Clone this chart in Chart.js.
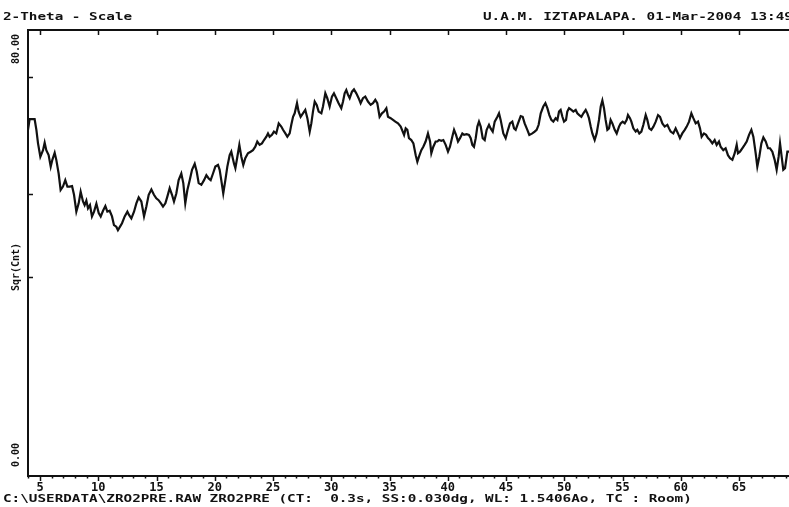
<!DOCTYPE html>
<html>
<head>
<meta charset="utf-8">
<script src="https://cdn.jsdelivr.net/npm/chart.js@4.4.1/dist/chart.umd.min.js"></script>
<style>
  html, body { margin: 0; padding: 0; background: #fff; overflow: hidden; }
  #wrap { position: relative; width: 789px; height: 507px; overflow: hidden; }
  canvas { position: absolute; left: 0; top: 0; }
  .txt { position: absolute; font-family: "DejaVu Sans Mono", monospace; font-weight: bold; font-size: 11px; color: #111; white-space: pre; transform-origin: 0 50%; transform: scaleX(1.3); line-height: 12px; }
  .vtxt { position: absolute; font-family: "DejaVu Sans Mono", monospace; font-weight: bold; font-size: 10px; color: #111; white-space: pre; line-height: 10px; transform: translate(-50%, -50%) rotate(-90deg); }
</style>
</head>
<body>
<div id="wrap">
  <canvas id="c" width="789" height="507"></canvas>
  <div class="txt" style="left:3px; top:11px;">2-Theta - Scale</div>
  <div class="txt" style="left:483px; top:11px;">U.A.M. IZTAPALAPA. 01-Mar-2004 13:49</div>
  <div class="txt" style="left:3px; top:493px;">C:\USERDATA\ZRO2PRE.RAW ZRO2PRE (CT:  0.3s, SS:0.030dg, WL: 1.5406Ao, TC : Room)</div>
  <div class="vtxt" style="left:16px; top:49px;">80.00</div>
  <div class="vtxt" style="left:16px; top:267px;">Sqr(Cnt)</div>
  <div class="vtxt" style="left:16px; top:455px;">0.00</div>
</div>
<script>
// 2-Theta positions (degrees)
const theta = [
  3.97,4.11,4.54,4.69,4.83,5.03,5.26,5.40,5.54,5.74,5.92,6.06,6.26,6.40,6.60,6.77,6.97,7.17,7.35,7.55,
  7.75,7.92,8.12,8.32,8.49,8.69,8.83,8.98,9.12,9.29,9.46,9.64,9.84,10.04,10.21,10.41,10.61,10.78,10.98,11.18,
  11.35,11.55,11.69,11.87,12.04,12.27,12.50,12.64,12.84,13.07,13.27,13.47,13.70,13.93,14.13,14.33,14.56,14.78,14.98,15.18,
  15.41,15.56,15.76,15.93,16.13,16.33,16.50,16.70,16.90,17.13,17.30,17.47,17.65,17.85,18.05,18.28,18.45,18.62,18.85,19.08,
  19.28,19.48,19.65,19.85,20.05,20.28,20.42,20.56,20.73,20.91,21.08,21.28,21.42,21.65,21.77,21.94,22.11,22.28,22.45,22.62,
  22.85,23.08,23.28,23.48,23.65,23.85,24.05,24.23,24.43,24.57,24.71,24.91,25.08,25.28,25.49,25.71,25.86,26.06,26.23,26.43,
  26.57,26.72,26.86,27.06,27.20,27.37,27.57,27.77,27.95,28.15,28.29,28.43,28.58,28.75,28.92,29.15,29.29,29.49,29.66,29.86,
  30.06,30.23,30.43,30.63,30.86,31.01,31.15,31.29,31.44,31.58,31.78,31.95,32.15,32.35,32.52,32.72,32.92,33.15,33.38,33.58,
  33.78,33.95,34.15,34.35,34.53,34.73,34.87,35.10,35.30,35.50,35.73,35.96,
  36.25,36.39,36.53,36.67,36.87,37.05,37.25,37.39,37.53,37.73,37.90,38.10,38.30,38.48,38.59,38.76,38.96,39.11,39.25,39.45,
  39.62,39.82,40.02,40.19,40.39,40.54,40.71,40.88,41.05,41.25,41.40,41.62,41.82,41.97,42.11,42.25,42.40,42.54,42.68,42.83,
  43.00,43.17,43.34,43.54,43.68,43.86,44.03,44.26,44.40,44.54,44.77,44.97,45.17,45.34,45.54,45.69,45.83,46.03,46.26,46.43,
  46.60,46.83,47.00,47.26,47.46,47.63,47.80,47.98,48.20,48.38,48.55,48.72,48.89,49.06,49.26,49.41,49.55,49.69,49.84,49.98,
  50.15,50.26,50.41,50.61,50.78,50.98,51.12,51.29,51.47,51.64,51.84,51.98,52.12,52.27,52.41,52.61,52.78,52.98,53.13,53.27,
  53.41,53.55,53.70,53.84,53.98,54.13,54.33,54.50,54.70,54.84,55.01,55.19,55.36,55.47,55.64,55.76,55.93,56.13,56.27,56.44,
  56.62,56.79,56.99,57.13,57.30,57.47,57.65,57.85,58.05,58.22,58.42,58.62,58.85,58.99,59.13,59.36,59.56,59.76,59.93,60.13,
  60.34,60.51,60.71,60.91,61.08,61.28,61.48,61.65,61.79,61.99,62.17,62.34,62.51,62.71,62.91,63.08,63.28,63.42,63.65,63.85,
  64.05,64.23,64.43,64.63,64.80,64.91,65.08,65.28,65.48,65.66,65.86,66.06,66.23,66.43,66.57,66.74,66.92,67.09,67.29,67.49,
  67.66,67.86,68.06,68.23,68.40,68.52,68.66,68.80,68.95,69.15,69.29
];
// Intensity (counts), plotted on a square-root axis
const counts = [
  48.2,51.2,51.2,48.2,44.5,41.0,42.7,44.7,42.7,41.4,38.5,40.2,42.0,40.2,36.8,32.9,33.7,35.2,33.7,33.7,
  33.8,31.8,28.1,29.9,32.5,30.3,29.5,30.5,28.8,29.5,27.1,28.1,29.8,27.8,27.1,28.3,29.3,28.1,28.3,27.1,
  25.3,25.0,24.3,25.0,25.7,27.1,28.1,27.4,26.7,28.1,29.9,31.2,30.3,27.1,29.2,31.8,33.0,31.8,31.0,30.6,
  29.8,29.2,29.9,31.4,33.3,31.8,30.3,32.1,35.2,36.8,34.5,29.9,32.9,35.2,37.7,39.2,37.3,34.5,34.1,35.2,
  36.4,35.6,35.2,36.8,38.5,38.9,37.7,35.2,32.1,35.2,38.5,41.4,42.3,39.3,38.1,41.0,44.1,41.0,38.9,40.6,
  41.9,42.3,42.7,43.6,45.0,44.1,44.5,45.4,46.3,47.2,46.3,46.8,47.7,47.2,50.0,49.1,48.2,47.2,46.3,47.2,
  49.6,51.9,52.9,55.9,53.4,51.9,52.9,53.9,51.5,47.7,50.0,53.4,56.4,55.4,53.4,52.9,54.9,58.9,57.4,54.9,
  57.9,58.9,57.4,55.9,54.4,56.4,58.9,59.9,58.4,57.4,59.4,60.1,58.9,57.4,55.9,57.4,57.9,56.4,55.4,55.9,
  56.9,55.9,51.9,52.9,53.4,54.4,51.9,51.5,51.0,50.5,50.0,49.1,
  46.8,48.6,48.2,45.9,45.4,44.5,41.4,39.7,41.0,42.7,43.6,45.0,47.2,45.0,41.9,43.6,45.0,45.0,45.4,45.2,
  45.4,44.1,42.3,43.6,46.3,48.2,46.8,45.0,45.9,47.2,46.8,47.0,46.8,45.9,44.1,43.6,45.9,49.1,50.5,49.1,
  45.9,45.4,48.2,49.6,48.6,47.7,50.5,51.9,52.9,51.0,47.2,45.9,48.2,50.0,50.5,48.6,48.2,50.0,52.1,51.9,
  50.0,48.2,46.8,47.2,47.7,48.2,49.6,52.9,54.9,55.9,54.4,52.4,51.0,50.5,51.5,51.0,53.4,53.9,51.9,50.5,
  51.0,53.4,54.4,53.9,53.4,53.9,52.9,52.4,51.9,52.9,53.9,52.9,51.5,49.1,47.2,45.4,47.2,51.0,54.9,56.7,
  54.4,51.0,48.2,48.6,51.0,50.0,48.2,47.2,49.1,50.0,50.5,50.0,51.0,52.4,51.5,50.5,48.6,47.7,48.2,47.2,
  47.7,49.6,52.4,51.0,48.6,48.2,49.1,50.5,52.4,51.9,50.0,49.1,49.6,48.6,47.7,47.2,48.6,47.2,45.9,47.2,
  48.2,49.1,50.5,52.9,51.5,50.0,50.5,48.6,46.3,47.2,46.8,45.9,45.4,44.5,45.4,44.1,45.0,43.6,42.7,43.2,
  41.4,40.6,40.2,41.9,44.1,41.9,42.3,43.2,44.1,45.0,46.8,48.2,46.3,41.9,38.5,41.0,44.5,46.1,45.0,43.2,
  43.2,42.3,40.2,37.7,41.0,44.5,41.0,37.7,38.1,42.3,42.3
];
// Axis settings
const xMin = 3.97, xMax = 69.29;
const yMax = 80;
const xLabelValues = [5,10,15,20,25,30,35,40,45,50,55,60,65];
const yTickCounts = [16,32,64];

class SqrtScale extends Chart.LinearScale {
  getPixelForValue(value) {
    const lo = Math.sqrt(Math.max(0, this.min));
    const hi = Math.sqrt(Math.max(0, this.max));
    const v = Math.sqrt(Math.max(0, value));
    return this.getPixelForDecimal((v - lo) / (hi - lo));
  }
  getValueForPixel(pixel) {
    const lo = Math.sqrt(Math.max(0, this.min));
    const hi = Math.sqrt(Math.max(0, this.max));
    const s = lo + this.getDecimalForPixel(pixel) * (hi - lo);
    return s * s;
  }
}
SqrtScale.id = 'sqrt';
SqrtScale.defaults = Chart.LinearScale.defaults;
Chart.register(SqrtScale);

const marks = {
  id: 'marks',
  afterDraw(chart) {
    const {ctx, chartArea: a, scales: {x, y}} = chart;
    ctx.save();
    ctx.strokeStyle = '#111';
    ctx.lineCap = 'butt';
    // top frame line
    ctx.lineWidth = 2;
    ctx.beginPath(); ctx.moveTo(a.left - 1, a.top); ctx.lineTo(a.right, a.top); ctx.stroke();
    ctx.lineWidth = 1.5;
    ctx.beginPath();
    // top ticks (inward)
    xLabelValues.forEach(v => { const px = Math.round(x.getPixelForValue(v)) + 0.5; ctx.moveTo(px, a.top); ctx.lineTo(px, a.top + 5); });
    // bottom ticks (outward)
    for (let v = Math.ceil(xMin); v <= Math.floor(xMax); v++) {
      const px = Math.round(x.getPixelForValue(v)) + 0.5;
      const len = (v % 5 === 0) ? 5 : 2.5;
      ctx.moveTo(px, a.bottom); ctx.lineTo(px, a.bottom + len);
    }
    // left ticks (inward)
    yTickCounts.forEach(v => { const py = Math.round(y.getPixelForValue(v)) + 0.5; ctx.moveTo(a.left, py); ctx.lineTo(a.left + 5, py); });
    ctx.stroke();
    ctx.restore();
  }
};

new Chart(document.getElementById('c'), {
  type: 'line',
  data: {
    datasets: [{
      data: theta.map((t, i) => ({x: t, y: counts[i]})),
      borderColor: '#111',
      borderWidth: 2.2,
      pointRadius: 0,
      tension: 0,
      fill: false
    }]
  },
  options: {
    responsive: false,
    animation: false,
    devicePixelRatio: 1,
    layout: { padding: { top: 30, left: 0, right: 0, bottom: 0 } },
    plugins: { legend: { display: false }, tooltip: { enabled: false } },
    scales: {
      x: {
        type: 'linear', min: xMin, max: xMax,
        afterBuildTicks: s => { s.ticks = xLabelValues.map(v => ({value: v})); },
        afterFit: s => { s.height = 31; },
        grid: { display: false, drawTicks: false },
        border: { display: true, color: '#111', width: 2 },
        ticks: { padding: 5, maxRotation: 0, autoSkip: false, color: '#111',
                 font: { family: 'DejaVu Sans Mono', size: 12, weight: 'bold' },
                 callback: v => String(v) }
      },
      y: {
        type: 'sqrt', min: 0, max: yMax,
        afterFit: s => { s.width = 28; },
        grid: { display: false, drawTicks: false },
        border: { display: true, color: '#111', width: 2 },
        ticks: { display: false }
      }
    }
  },
  plugins: [marks]
});
</script>
</body>
</html>
